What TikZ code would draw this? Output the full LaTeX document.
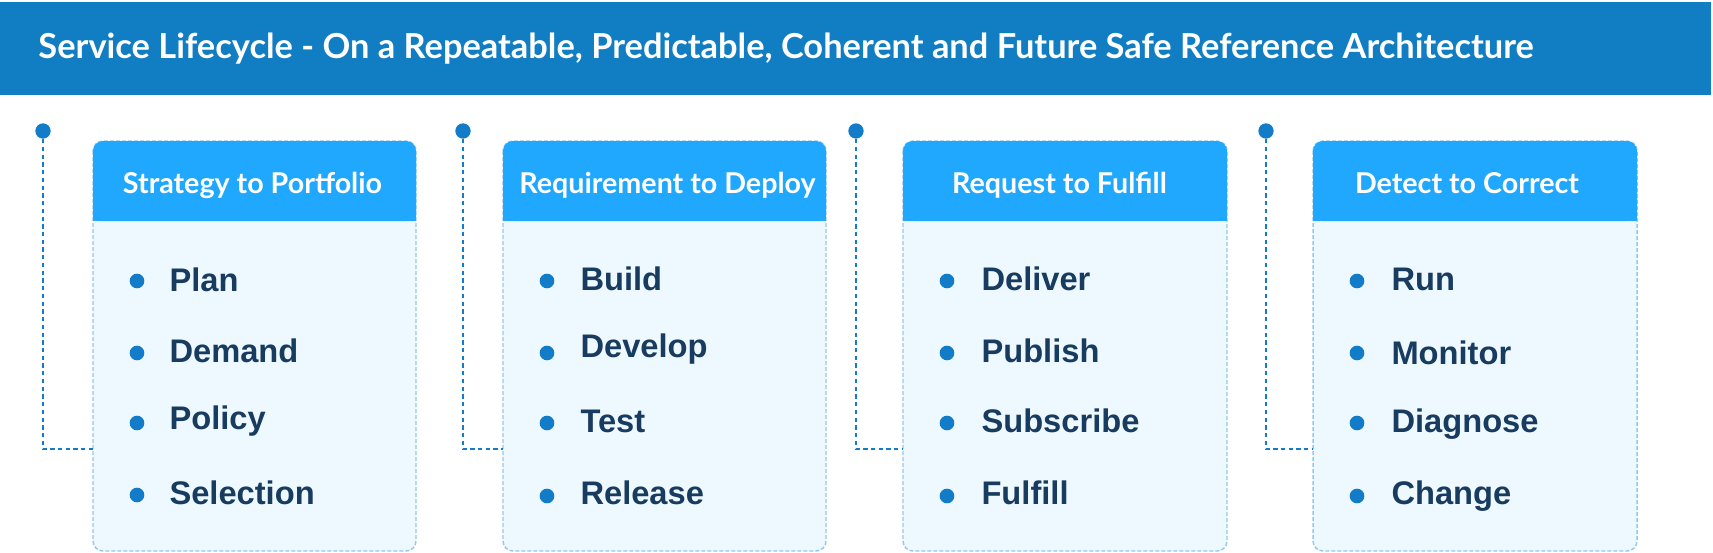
\documentclass[tikz,border=0pt]{standalone}
\usepackage{fontspec}
\setmainfont{Lato}
\newfontfamily\itemfont{Liberation Sans}

\definecolor{bannerblue}{HTML}{117DC2}
\definecolor{headblue}{HTML}{1FA8FE}
\definecolor{cardfill}{HTML}{EEF8FF}
\definecolor{cardedge}{HTML}{93C9EE}
\definecolor{dotblue}{HTML}{127CC8}
\definecolor{itemnavy}{HTML}{183B60}

\tikzset{every picture/.style={line width=0.75pt}}

\begin{document}
\begin{tikzpicture}[x=0.75pt,y=0.75pt,yscale=-1,xscale=1,
  titletext/.style={text=white, font=\fontsize{25.8}{31}\selectfont\bfseries, inner sep=0pt, anchor=base west},
  cardbody/.style={fill=cardfill, draw=cardedge, line width=1.1pt, dash pattern=on 3pt off 1.5pt, rounded corners=7.5pt},
  headtext/.style={text=white, font=\fontsize{21.5}{26}\selectfont\bfseries, inner sep=0pt, anchor=base},
  item/.style={text=itemnavy, font=\itemfont\fontsize{24.5}{29}\selectfont\bfseries, inner sep=0pt, anchor=base west},
  bullet/.style={circle, fill=dotblue, inner sep=0pt, minimum size=11pt},
  pin/.style={circle, fill=dotblue, inner sep=0pt, minimum size=11.5pt},
  link/.style={draw=dotblue, line width=1.8pt, dash pattern=on 3.2pt off 2.6pt}
]
\useasboundingbox (0,0) rectangle (1713,553);

% banner
\fill [bannerblue] (0,2) rectangle (1711,95);
\node [titletext] (title) at (38,58) {Service Lifecycle - On a Repeatable, Predictable, Coherent and Future Safe Reference Architecture};

% cards
\draw [cardbody] (93,141) rectangle (416,551);
\draw [cardbody] (503,141) rectangle (826,551);
\draw [cardbody] (903,141) rectangle (1227,551);
\draw [cardbody] (1313,141) rectangle (1637,551);

\fill [headblue, rounded corners=7.5pt] (93,141) rectangle (416,221);
\fill [headblue] (93,190) rectangle (416,221);
\fill [headblue, rounded corners=7.5pt] (503,141) rectangle (826,221);
\fill [headblue] (503,190) rectangle (826,221);
\fill [headblue, rounded corners=7.5pt] (903,141) rectangle (1227,221);
\fill [headblue] (903,190) rectangle (1227,221);
\fill [headblue, rounded corners=7.5pt] (1313,141) rectangle (1637,221);
\fill [headblue] (1313,190) rectangle (1637,221);

\node [headtext] (head1) at (252.5,193) {Strategy to Portfolio};
\node [headtext] (head2) at (667.5,193) {Requirement to Deploy};
\node [headtext] (head3) at (1059.5,193) {Request to Fulfill};
\node [headtext] (head4) at (1467,193) {Detect to Correct};

% pins and dotted links
\node [pin] (pin1) at (43,131) {};
\node [pin] (pin2) at (463,131) {};
\node [pin] (pin3) at (856,131) {};
\node [pin] (pin4) at (1266,131) {};
\coordinate (join1) at (93,449);
\coordinate (join2) at (503,449);
\coordinate (join3) at (903,449);
\coordinate (join4) at (1313,449);
\draw [link] (pin1) |- (join1);
\draw [link] (pin2) |- (join2);
\draw [link] (pin3) |- (join3);
\draw [link] (pin4) |- (join4);

% items
\node [bullet] (b11) at (137,281) {};
\node [bullet] (b12) at (137,353) {};
\node [bullet] (b13) at (137,423) {};
\node [bullet] (b14) at (137,495) {};
\node [item] (plan) at (169,291) {Plan};
\node [item] (demand) at (169,362) {Demand};
\node [item] (policy) at (169,429) {Policy};
\node [item] (selection) at (169,504) {Selection};

\node [bullet] (b21) at (547,281) {};
\node [bullet] (b22) at (547,353) {};
\node [bullet] (b23) at (547,423) {};
\node [bullet] (b24) at (547,496) {};
\node [item] (build) at (580,290) {Build};
\node [item] (develop) at (580,357) {Develop};
\node [item] (test) at (580,432) {Test};
\node [item] (release) at (580,504) {Release};

\node [bullet] (b31) at (947,281) {};
\node [bullet] (b32) at (947,353) {};
\node [bullet] (b33) at (947,423) {};
\node [bullet] (b34) at (947,496) {};
\node [item] (deliver) at (981,290) {Deliver};
\node [item] (publish) at (981,362) {Publish};
\node [item] (subscribe) at (981,432) {Subscribe};
\node [item] (fulfill) at (981,504) {Fulfill};

\node [bullet] (b41) at (1357,281) {};
\node [bullet] (b42) at (1357,353) {};
\node [bullet] (b43) at (1357,423) {};
\node [bullet] (b44) at (1357,496) {};
\node [item] (run) at (1391,290) {Run};
\node [item] (monitor) at (1391,364) {Monitor};
\node [item] (diagnose) at (1391,432) {Diagnose};
\node [item] (change) at (1391,504) {Change};

\end{tikzpicture}
\end{document}
